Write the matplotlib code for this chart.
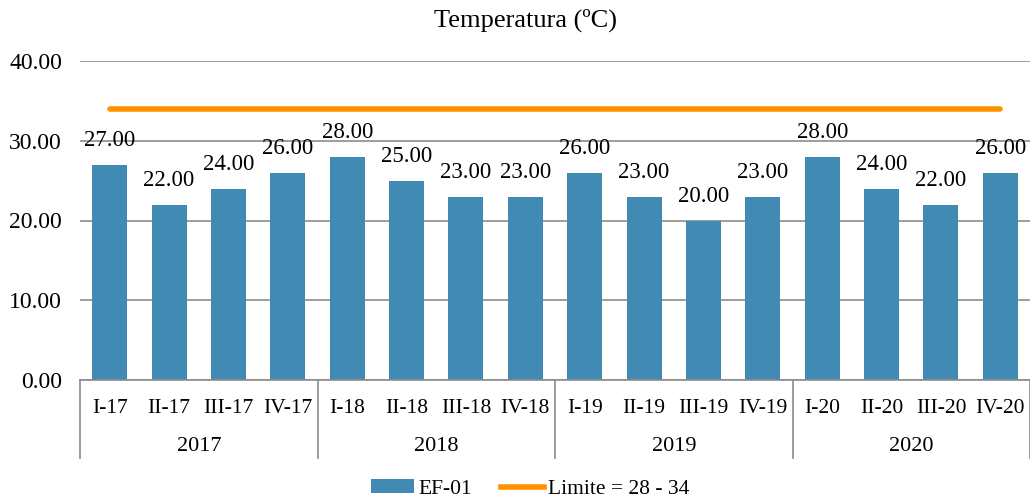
import matplotlib.pyplot as plt
from matplotlib.patches import Patch
from matplotlib.lines import Line2D

# data
quarters = ['I-17', 'II-17', 'III-17', 'IV-17',
            'I-18', 'II-18', 'III-18', 'IV-18',
            'I-19', 'II-19', 'III-19', 'IV-19',
            'I-20', 'II-20', 'III-20', 'IV-20']
years = ['2017', '2018', '2019', '2020']
ef01 = [27, 22, 24, 26, 28, 25, 23, 23, 26, 23, 20, 23, 28, 24, 22, 26]
limite = [34] * len(quarters)

bar_color = '#408ab4'
line_color = '#ff9100'
plt.rcParams['font.family'] = ['Liberation Serif', 'DejaVu Serif']

fig = plt.figure(figsize=(10.3, 5.0), dpi=100)
ax = fig.add_axes([0.0777, 0.24, 0.9223, 0.638])

x = list(range(len(quarters)))
ax.bar(x, ef01, width=0.59, color=bar_color, zorder=2)
ax.plot(x, limite, color=line_color, linewidth=4, solid_capstyle='round', zorder=3)

# value labels on top of bars
for xi, v in zip(x, ef01):
    ax.text(xi, v + 1.7, f'{v:.2f}', ha='center', va='bottom', fontsize=16.5, zorder=4)

ax.set_xlim(-0.5, len(quarters) - 0.5)
ax.set_ylim(0, 40)
ax.set_yticks([0, 10, 20, 30, 40])
ax.set_yticklabels([f'{t:.2f}' for t in [0, 10, 20, 30, 40]], fontsize=17)
ax.yaxis.grid(True, color='#8c8c8c', linewidth=1.2, zorder=0)
ax.set_axisbelow(True)
ax.tick_params(axis='y', length=0, pad=13)

for side in ['top', 'right', 'left']:
    ax.spines[side].set_visible(False)
ax.spines['bottom'].set_color('#8c8c8c')
ax.spines['bottom'].set_linewidth(1.2)

ax.set_xticks(x)
ax.set_xticklabels(quarters, fontsize=15.5)
ax.tick_params(axis='x', length=0, pad=14)

# year groups below the quarter labels
trans = ax.get_xaxis_transform()
for i, yr in enumerate(years):
    ax.text(i * 4 + 1.5, -0.21, yr, transform=trans, ha='center', va='center',
            fontsize=16)
for sep in [-0.5, 3.5, 7.5, 11.5, 15.5]:
    ax.plot([sep, sep], [0, -0.245], transform=trans, color='#8c8c8c',
            linewidth=1.2, clip_on=False)

fig.text(0.51, 0.96, 'Temperatura (ºC)', ha='center', va='center', fontsize=19)

handles = [Patch(facecolor=bar_color, label='EF-01'),
           Line2D([0], [0], color=line_color, linewidth=4, label='Limite = 28 - 34')]
fig.legend(handles=handles, loc='center', bbox_to_anchor=(0.515, 0.022), ncol=2,
           frameon=False, fontsize=15.5, handlelength=2.0, handleheight=0.6,
           columnspacing=1.35, handletextpad=0.2)

fig.savefig('out.png', dpi=100)
